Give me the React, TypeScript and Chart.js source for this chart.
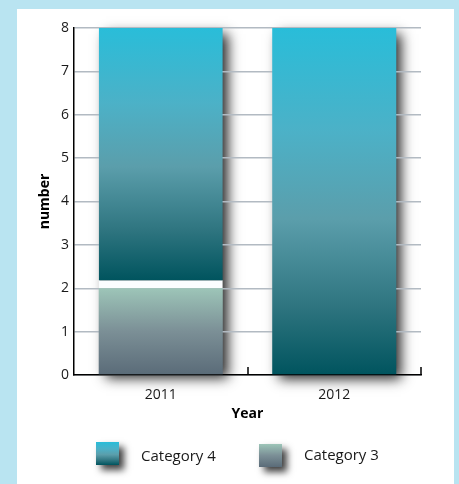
import React, { useEffect, useRef } from 'react';
import { Chart, registerables } from 'chart.js';

Chart.register(...registerables);

// ---- data ----
const categories = ['2011', '2012'];
const category3 = [2, 0];
const category4 = [6, 8];
const yMin = 0;
const yMax = 8;
const yStep = 1;
const legendOrder = ['Category 4', 'Category 3'];

// ---- styles ----
const FONT = "'Open Sans', sans-serif";
const GAP = 8;
const cat4Stops: [number, string][] = [
  [0, '#29bdd9'],
  [0.3, '#4cb1c7'],
  [0.55, '#5b9eab'],
  [0.8, '#2f7580'],
  [1, '#00545e'],
];
const cat3Stops: [number, string][] = [
  [0, '#9dc5b8'],
  [0.5, '#7b8f96'],
  [1, '#5a6b78'],
];

function makeGradient(chart: any, top: number, bottom: number, stops: [number, string][]) {
  const g = chart.ctx.createLinearGradient(0, top, 0, bottom);
  stops.forEach(([o, c]) => g.addColorStop(o, c));
  return g;
}

const shadowPlugin = {
  id: 'barShadow',
  beforeDraw(chart: any) {
    const ctx = chart.ctx;
    const metas = chart.data.datasets.map((_: any, d: number) => chart.getDatasetMeta(d));
    ctx.save();
    ctx.shadowColor = 'rgba(0,0,0,0.85)';
    ctx.shadowBlur = 12;
    ctx.shadowOffsetX = 6;
    ctx.shadowOffsetY = 5;
    ctx.fillStyle = '#444';
    categories.forEach((_, i) => {
      let top = Infinity;
      let bottom = -Infinity;
      let x = 0;
      let w = 0;
      metas.forEach((m: any) => {
        const el = m.data[i];
        if (!el) return;
        top = Math.min(top, el.y, el.base);
        bottom = Math.max(bottom, el.y, el.base);
        x = el.x;
        w = el.width;
      });
      if (!isFinite(top)) return;
      ctx.fillRect(x - w / 2 + 1, top + 1, w - 2, bottom - top - 2);
    });
    ctx.restore();
  },
};

const xTickPlugin = {
  id: 'xInnerTicks',
  afterDraw(chart: any) {
    const ctx = chart.ctx;
    const a = chart.chartArea;
    const x = chart.scales.x;
    ctx.save();
    ctx.strokeStyle = '#000';
    ctx.lineWidth = 1.5;
    for (let i = 0; i < categories.length; i++) {
      const px = Math.round(x.getPixelForValue(i + 0.5));
      ctx.beginPath();
      ctx.moveTo(px, a.bottom);
      ctx.lineTo(px, a.bottom - 8);
      ctx.stroke();
    }
    ctx.restore();
  },
};

export default function App() {
  const ref = useRef<HTMLCanvasElement>(null);

  useEffect(() => {
    const canvas = ref.current;
    if (!canvas) return;
    const chart = new Chart(canvas, {
      type: 'bar',
      data: {
        labels: categories,
        datasets: [
          {
            label: 'Category 3',
            data: category3,
            backgroundColor: (c: any) => {
              const chart = c.chart;
              if (!chart.chartArea || c.type !== 'data') return cat3Stops[0][1];
              const y = chart.scales.y;
              const i = c.dataIndex;
              return makeGradient(chart, y.getPixelForValue(category3[i]), y.getPixelForValue(0), cat3Stops);
            },
            borderWidth: 0,
          },
          {
            label: 'Category 4',
            data: category4,
            backgroundColor: (c: any) => {
              const chart = c.chart;
              if (!chart.chartArea || c.type !== 'data') return cat4Stops[0][1];
              const y = chart.scales.y;
              const i = c.dataIndex;
              const base = category3[i];
              const gap = base > 0 ? GAP : 0;
              return makeGradient(
                chart,
                y.getPixelForValue(base + category4[i]),
                y.getPixelForValue(base) - gap,
                cat4Stops
              );
            },
            borderColor: '#fbfdff',
            borderWidth: (c: any) =>
              c.type === 'data' && category3[c.dataIndex] > 0
                ? { top: 0, left: 0, right: 0, bottom: GAP }
                : 0,
            borderSkipped: false,
          },
        ],
      },
      options: {
        responsive: false,
        animation: false,
        layout: { padding: { left: 33, top: 28, right: 38, bottom: 58 } },
        font: { family: FONT },
        plugins: {
          legend: { display: false },
          tooltip: { enabled: false },
        },
        datasets: { bar: { barPercentage: 0.715, categoryPercentage: 1, inflateAmount: 0 } as any },
        scales: {
          x: {
            stacked: true,
            grid: { display: false, drawTicks: false },
            border: { display: true, color: '#000', width: 1.5 },
            ticks: { padding: 12, color: '#1a1a1a', font: { family: FONT, size: 14 } },
            title: {
              display: true,
              text: 'Year',
              color: '#000',
              font: { family: FONT, size: 14, weight: 'bold' },
              padding: { top: 4, bottom: 4 },
            },
            afterFit: (s: any) => {
              s.height = 51;
            },
          },
          y: {
            stacked: true,
            min: yMin,
            max: yMax,
            ticks: { stepSize: yStep, padding: 5, color: '#1a1a1a', font: { family: FONT, size: 14 } },
            grid: { color: '#b2bac2', lineWidth: 1.5, drawTicks: false },
            border: { display: true, color: '#000', width: 1.5 },
            title: {
              display: true,
              text: 'number',
              color: '#000',
              font: { family: FONT, size: 14, weight: 'bold' },
              padding: { top: 4, bottom: 4 },
            },
            afterFit: (s: any) => {
              s.width = 41;
            },
          },
        },
      } as any,
      plugins: [shadowPlugin, xTickPlugin],
    });
    return () => chart.destroy();
  }, []);

  const legendItems = [
    { label: legendOrder[0], stops: cat4Stops, box: { left: 96, top: 442 }, text: { left: 141, top: 445 } },
    { label: legendOrder[1], stops: cat3Stops, box: { left: 259, top: 444 }, text: { left: 304, top: 444 } },
  ];

  return (
    <div
      style={{
        position: 'absolute',
        left: 0,
        top: 0,
        width: 459,
        height: 484,
        background: '#b9e4f1',
        overflow: 'hidden',
        fontFamily: FONT,
      }}
    >
      <div style={{ position: 'absolute', left: 17, top: 9, width: 437, height: 475, background: '#fff' }} />
      <canvas
        ref={ref}
        width={459}
        height={484}
        style={{ position: 'absolute', left: 0, top: 0, width: 459, height: 484 }}
      />
      {legendItems.map((it) => (
        <React.Fragment key={it.label}>
          <div
            style={{
              position: 'absolute',
              left: it.box.left,
              top: it.box.top,
              width: 23,
              height: 23,
              background: `linear-gradient(to bottom, ${it.stops
                .map(([o, c]) => `${c} ${Math.round(o * 100)}%`)
                .join(', ')})`,
              boxShadow: '5px 5px 7px rgba(0,0,0,0.75)',
            }}
          />
          <div
            style={{
              position: 'absolute',
              left: it.text.left,
              top: it.text.top,
              fontSize: 15,
              lineHeight: '20px',
              color: '#1a1a1a',
              whiteSpace: 'nowrap',
            }}
          >
            {it.label}
          </div>
        </React.Fragment>
      ))}
    </div>
  );
}
